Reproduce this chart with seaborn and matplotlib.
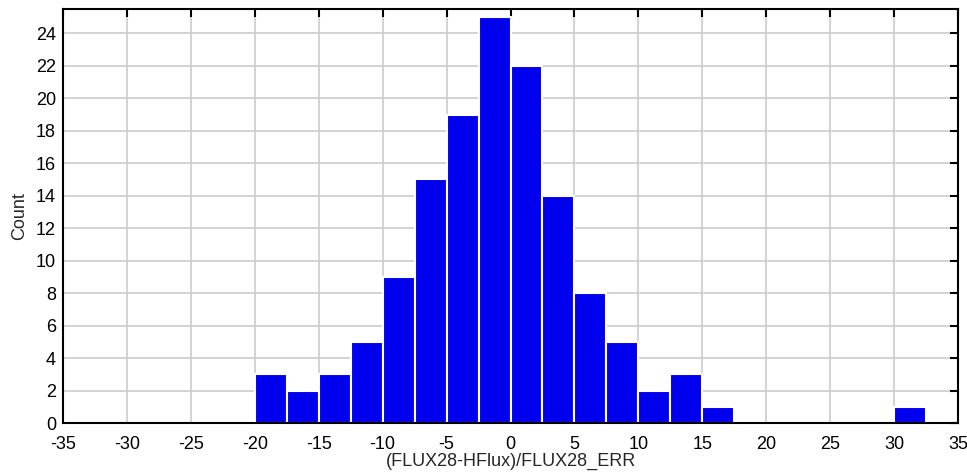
import numpy as np
import pandas as pd
import seaborn as sns
import matplotlib
matplotlib.use("Agg")
import matplotlib.pyplot as plt

# Histogram bins (width 2.5) and counts per bin
bin_left = [-20.0, -17.5, -15.0, -12.5, -10.0, -7.5, -5.0, -2.5, 0.0, 2.5,
            5.0, 7.5, 10.0, 12.5, 15.0, 17.5, 20.0, 22.5, 25.0, 27.5, 30.0]
counts = [3, 2, 3, 5, 9, 15, 19, 25, 22, 14,
          8, 5, 2, 3, 1, 0, 0, 0, 0, 0, 1]
bin_width = 2.5

x_ticks = list(range(-35, 36, 5))
y_ticks = list(range(0, 25, 2))

sns.set_theme(style="white")
plt.rcParams["font.family"] = ["Liberation Sans", "DejaVu Sans"]

df = pd.DataFrame({"value": np.array(bin_left) + bin_width / 2, "count": counts})
edges = list(bin_left) + [bin_left[-1] + bin_width]

fig = plt.figure(figsize=(9.67, 4.73), dpi=100)
ax = fig.add_axes([0.0652, 0.1057, 0.9255, 0.8753])

ax.grid(True, color="#cccccc", linewidth=1.2, zorder=0)
ax.set_axisbelow(True)

sns.histplot(data=df, x="value", weights="count", bins=edges, ax=ax,
             color="#0000ee", alpha=1.0, edgecolor="white", linewidth=1.5,
             zorder=2)

ax.set_xlim(-35, 35)
ax.set_ylim(0, 25.5)
ax.set_xticks(x_ticks)
ax.set_yticks(y_ticks)
ax.set_xticklabels([str(t) for t in x_ticks])
ax.set_yticklabels([str(t) for t in y_ticks])

ax.tick_params(direction="in", length=6, width=1.5, top=True, right=True,
               labelsize=13, colors="black")
ax.tick_params(axis="x", pad=9)
ax.tick_params(axis="y", pad=5)
for side in ax.spines.values():
    side.set_visible(True)
    side.set_color("black")
    side.set_linewidth(1.5)

ax.set_xlabel("(FLUX28-HFlux)/FLUX28_ERR", fontsize=13, labelpad=0)
ax.set_ylabel("Count", fontsize=13, labelpad=6)

fig.savefig("out.png", dpi=100)
